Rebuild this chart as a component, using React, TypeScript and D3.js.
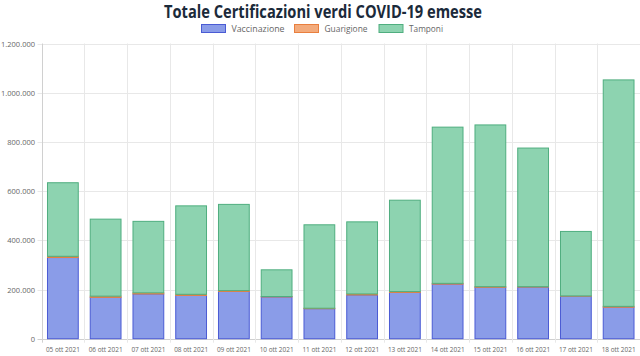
import React from "react";
import * as d3 from "d3";

const categories = ["05 ott 2021","06 ott 2021","07 ott 2021","08 ott 2021","09 ott 2021","10 ott 2021","11 ott 2021","12 ott 2021","13 ott 2021","14 ott 2021","15 ott 2021","16 ott 2021","17 ott 2021","18 ott 2021"];
const vaccinazione = [330000,168000,182000,176000,192000,170000,122000,178000,188000,222000,209000,210000,173000,128000];
const guarigione = [5000,5000,4500,4500,3500,1500,2000,4000,3500,3000,2500,1500,1000,3500];
const tamponi = [299000,313000,290500,359500,350500,108500,339000,293000,371500,635000,657500,563500,262000,920500];
const yTicks = [0,200000,400000,600000,800000,1000000,1200000];
const seriesNames = ["Vaccinazione","Guarigione","Tamponi"];
const fills = ["#8a9ce8","#f3ab7c","#8dd3b0"];
const strokes = ["#4a5bd4","#e97f3e","#4fae7f"];

const W = 640, H = 356;
const left = 41.5, right = 640, top = 43.5, bottom = 338.7;

export default function App() {
  const x = d3.scaleBand().domain(categories).range([left, right]).paddingInner(0).paddingOuter(0);
  const y = d3.scaleLinear().domain([0, 1200000]).range([bottom, top]);
  const rows = categories.map((c, i) => ({ cat: c, Vaccinazione: vaccinazione[i], Guarigione: guarigione[i], Tamponi: tamponi[i] }));
  const stack = d3.stack<any>().keys(seriesNames)(rows);
  const bw = x.bandwidth() * 0.72;
  const fmt = (v: number) => d3.format(",")(v).replace(/,/g, ".");
  const font = "'Open Sans', sans-serif";
  const legendX = [201.5, 294.5, 379];
  const legendW = [53, 43, 34];
  return (
    <svg width={W} height={H} style={{ position: "absolute", left: 0, top: 0, background: "#fff" }}>
      <text x={323} y={18} textAnchor="middle" fontFamily={font} fontWeight={700} fontSize={17.5} fill="#1b2a3a" textLength={318} lengthAdjust="spacingAndGlyphs">Totale Certificazioni verdi COVID-19 emesse</text>
      {seriesNames.map((s, i) => (
        <g key={s}>
          <rect x={legendX[i]} y={24.5} width={24} height={8} fill={fills[i]} stroke={strokes[i]} strokeWidth={1} />
          <text x={legendX[i] + 30} y={32} fontFamily={font} fontSize={9.5} fill="#666" textLength={legendW[i]} lengthAdjust="spacingAndGlyphs">{s}</text>
        </g>
      ))}
      {yTicks.map(t => (
        <g key={t}>
          <line x1={left - 4} x2={right} y1={Math.round(y(t)) + 0.5} y2={Math.round(y(t)) + 0.5} stroke={t === 0 ? "#d0d0d0" : "#e8e8e8"} strokeWidth={1} />
          <text x={35} y={y(t) + 3} textAnchor="end" fontFamily={font} fontSize={7.5} fill="#666">{fmt(t)}</text>
        </g>
      ))}
      {categories.map((c, i) => (
        <line key={c} x1={Math.round(x(c)!) + 0.5} x2={Math.round(x(c)!) + 0.5} y1={top} y2={bottom + 4} stroke={i === 0 ? "#d0d0d0" : "#e8e8e8"} strokeWidth={1} />
      ))}
      {stack.map((layer, si) => (
        <g key={seriesNames[si]}>
          {layer.map((d, i) => {
            const cx = x(categories[i])! + x.bandwidth() / 2;
            const y0 = y(d[0]), y1 = y(d[1]);
            return <rect key={i} x={cx - bw / 2} y={y1} width={bw} height={Math.max(0, y0 - y1)} fill={fills[si]} stroke={strokes[si]} strokeWidth={1} />;
          })}
        </g>
      ))}
      {categories.map(c => (
        <text key={c} x={x(c)! + x.bandwidth() / 2} y={352} textAnchor="middle" fontFamily={font} fontSize={7.5} fill="#666" textLength={34} lengthAdjust="spacingAndGlyphs">{c}</text>
      ))}
    </svg>
  );
}
